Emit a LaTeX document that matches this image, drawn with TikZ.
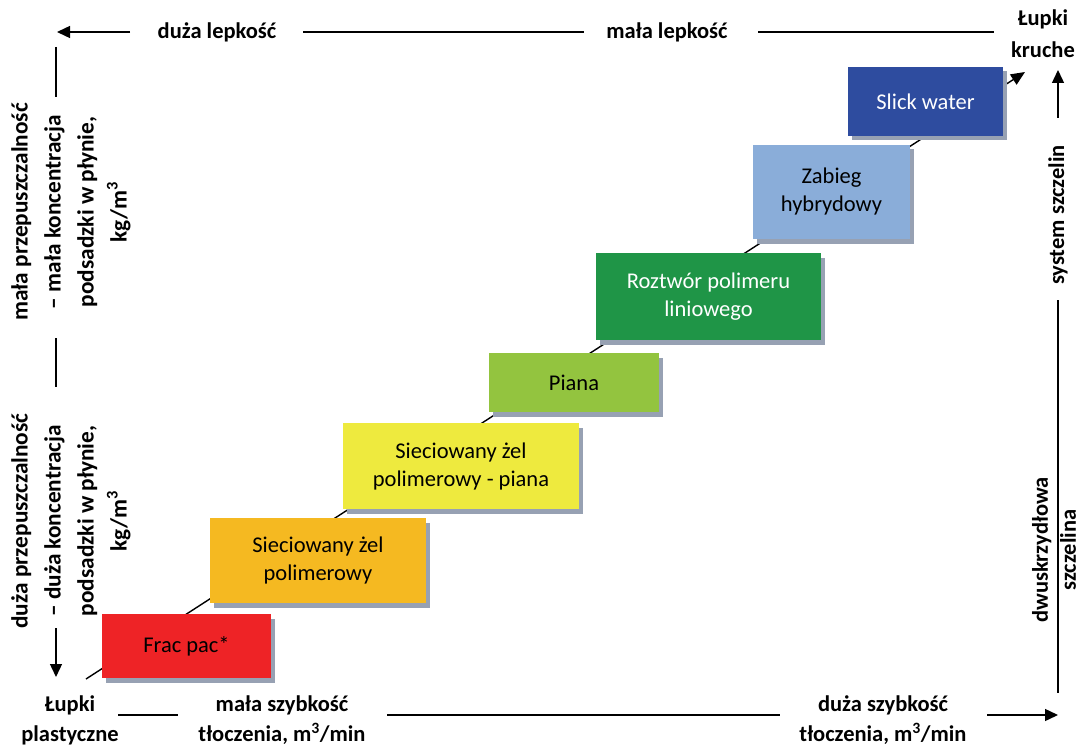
\documentclass[tikz,border=0pt]{standalone}
\usepackage{fontspec}
\setmainfont{Carlito}
\usetikzlibrary{arrows.meta,shadows}
\definecolor{cred}{HTML}{EE2326}
\definecolor{corange}{HTML}{F5B921}
\definecolor{cyellow}{HTML}{EEEA3E}
\definecolor{clgreen}{HTML}{93C43F}
\definecolor{cdgreen}{HTML}{1F9547}
\definecolor{clblue}{HTML}{8AADD9}
\definecolor{cdblue}{HTML}{2E4C9F}
\definecolor{shadowgray}{HTML}{97A1B3}
\tikzset{
  box/.style={fill=#1, draw=none, inner sep=0pt, align=center,
    font=\fontsize{22.5}{28}\selectfont,
    drop shadow={shadow xshift=3.5pt, shadow yshift=-4.5pt, fill=shadowgray, opacity=1}},
  lab/.style={align=center, inner sep=0pt, font=\fontsize{22.5}{30}\selectfont\bfseries},
  rlab/.style={lab, rotate=90, font=\fontsize{23.3}{33}\selectfont\bfseries},
  axis/.style={line width=1.4pt},
  axisarrow/.style={axis, -{Triangle[length=13pt,width=12pt]}},
}
\begin{document}
\begin{tikzpicture}[x=1pt,y=-1pt]
\useasboundingbox (0,0) rectangle (1080,749);
% diagonal
\coordinate (dstart) at (86,679);
\coordinate (dend) at (1025,72);
\draw[line width=1.4pt, -{Triangle[length=14pt,width=12pt]}] (dstart) -- (dend);
% boxes
\node[box=cred, minimum width=169pt, minimum height=64pt] (frac) at (186.5,646) {Frac pac*};
\node[box=corange, minimum width=216pt, minimum height=85pt] (szel) at (318,560.5) {Sieciowany żel\\polimerowy};
\node[box=cyellow, minimum width=236pt, minimum height=86pt] (szelp) at (461,466) {Sieciowany żel\\polimerowy - piana};
\node[box=clgreen, minimum width=170pt, minimum height=59pt] (piana) at (574,382.5) {Piana};
\node[box=cdgreen, text=white, minimum width=225pt, minimum height=87pt] (rozt) at (708.5,296.5) {Roztwór polimeru\\liniowego};
\node[box=clblue, minimum width=157pt, minimum height=94pt] (zab) at (831.5,192) {Zabieg\\hybrydowy};
\node[box=cdblue, text=white, minimum width=155pt, minimum height=69pt] (slick) at (925.5,101.5) {Slick water};
% top labels
\node[lab] (dl) at (217,32) {duża lepkość};
\node[lab] (ml) at (667,32) {mała lepkość};
\node[lab, font=\fontsize{22.5}{32}\selectfont\bfseries] (lk) at (1043,34) {Łupki\\kruche};
% bottom labels
\node[lab] (lp) at (70,720) {Łupki\\plastyczne};
\node[lab] (ms) at (282,720) {mała szybkość\\tłoczenia, m\textsuperscript{3}/min};
\node[lab] (ds) at (883,720) {duża szybkość\\tłoczenia, m\textsuperscript{3}/min};
% left labels
\node[rlab] (lt) at (71,212) {mała przepuszczalność\\– mała koncentracja\\podsadzki w płynie,\\kg/m\textsuperscript{3}};
\node[rlab] (lb) at (71,521) {duża przepuszczalność\\– duża koncentracja\\podsadzki w płynie,\\kg/m\textsuperscript{3}};
% right labels
\node[rlab, font=\fontsize{22.5}{30}\selectfont\bfseries] (ss) at (1058,215) {system szczelin};
\node[rlab, font=\fontsize{22.5}{28}\selectfont\bfseries] (dw) at (1054,550) {dwuskrzydłowa\\szczelina};
% axis segments
\coordinate (t1a) at (130,32); \coordinate (t1b) at (57,32);
\coordinate (t2a) at (303,32); \coordinate (t2b) at (584,32);
\coordinate (t3a) at (758,32); \coordinate (t3b) at (994,32);
\draw[axisarrow] (t1a) -- (t1b);
\draw[axis] (t2a) -- (t2b);
\draw[axis] (t3a) -- (t3b);
\coordinate (l1a) at (56,47); \coordinate (l1b) at (56,97);
\coordinate (l2a) at (56,338); \coordinate (l2b) at (56,387);
\coordinate (l3a) at (56,628); \coordinate (l3b) at (56,677);
\draw[axis] (l1a) -- (l1b);
\draw[axis] (l2a) -- (l2b);
\draw[axisarrow] (l3a) -- (l3b);
\coordinate (b1a) at (118,715); \coordinate (b1b) at (178,715);
\coordinate (b2a) at (387,715); \coordinate (b2b) at (780,715);
\coordinate (b3a) at (987,715); \coordinate (b3b) at (1058,715);
\draw[axis] (b1a) -- (b1b);
\draw[axis] (b2a) -- (b2b);
\draw[axisarrow] (b3a) -- (b3b);
\coordinate (r1a) at (1058,118); \coordinate (r1b) at (1058,70);
\coordinate (r2a) at (1058,300); \coordinate (r2b) at (1058,693);
\draw[axisarrow] (r1a) -- (r1b);
\draw[axis] (r2a) -- (r2b);
\end{tikzpicture}
\end{document}
